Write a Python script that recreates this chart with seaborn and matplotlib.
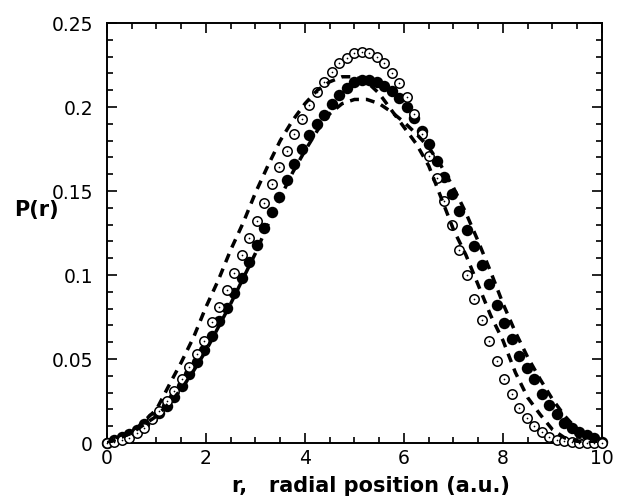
import numpy as np
import pandas as pd
import matplotlib
matplotlib.use("Agg")
import matplotlib.pyplot as plt
from matplotlib.ticker import MultipleLocator, FixedLocator
import seaborn as sns

# radial grid of the sampled points (a.u.)
r_pts = np.linspace(0, 10, 67)

# open circles
p_open = [0.0, 0.0005, 0.0015, 0.003, 0.006, 0.009, 0.014, 0.019, 0.025, 0.031,
          0.038, 0.0455, 0.053, 0.061, 0.072, 0.081, 0.091, 0.101, 0.112, 0.122,
          0.132, 0.143, 0.154, 0.164, 0.174, 0.184, 0.193, 0.201, 0.209, 0.215,
          0.221, 0.226, 0.229, 0.232, 0.2325, 0.232, 0.230, 0.226, 0.220, 0.214,
          0.206, 0.196, 0.184, 0.171, 0.158, 0.144, 0.130, 0.115, 0.100, 0.086,
          0.073, 0.061, 0.049, 0.038, 0.029, 0.021, 0.015, 0.010, 0.0065, 0.0038,
          0.0020, 0.0010, 0.0004, 0.0001, 0.0, 0.0, 0.0]

# filled circles
p_filled = [0.0, 0.0017, 0.0035, 0.0055, 0.0080, 0.0112, 0.0146, 0.0181, 0.0222, 0.0275,
            0.0338, 0.0410, 0.0482, 0.0552, 0.0635, 0.0728, 0.0805, 0.0890, 0.0985, 0.1078,
            0.1178, 0.1280, 0.1378, 0.1465, 0.1565, 0.1660, 0.1750, 0.1835, 0.1900, 0.1950,
            0.2015, 0.2072, 0.2115, 0.2148, 0.2160, 0.2160, 0.2150, 0.2128, 0.2095, 0.2055,
            0.2000, 0.1935, 0.1860, 0.1780, 0.1680, 0.1585, 0.1480, 0.1380, 0.1265, 0.1170,
            0.1060, 0.0945, 0.0820, 0.0715, 0.0620, 0.0520, 0.0445, 0.0380, 0.0290, 0.0226,
            0.0170, 0.0122, 0.0090, 0.0068, 0.0048, 0.0032, 0.0006]

# dashed curves
r_line = [0, 0.5, 1.0, 1.3, 1.5, 1.75, 2.0, 2.25, 2.5, 2.75, 3.0, 3.25, 3.5, 3.75,
          4.0, 4.25, 4.5, 4.75, 5.0, 5.25, 5.5, 5.75, 6.0, 6.25, 6.5, 6.75, 7.0,
          7.25, 7.5, 7.75, 8.0, 8.25, 8.5, 8.75, 9.0, 9.25, 9.5, 9.75, 10.0]
p_dash1 = [0.0, 0.006, 0.020, 0.037, 0.048, 0.063, 0.081, 0.097, 0.115, 0.131, 0.149,
           0.165, 0.180, 0.192, 0.202, 0.210, 0.215, 0.218, 0.218, 0.215, 0.208, 0.198,
           0.188, 0.178, 0.165, 0.146, 0.127, 0.112, 0.094, 0.076, 0.061, 0.042, 0.027,
           0.017, 0.008, 0.003, 0.001, 0.0003, 0.0]
p_dash2 = [0.0, 0.006, 0.016, 0.025, 0.032, 0.043, 0.055, 0.069, 0.083, 0.098, 0.113,
           0.130, 0.146, 0.161, 0.174, 0.186, 0.196, 0.202, 0.2045, 0.2045, 0.202, 0.197,
           0.191, 0.184, 0.176, 0.165, 0.152, 0.137, 0.120, 0.102, 0.083, 0.066, 0.051,
           0.038, 0.026, 0.016, 0.008, 0.003, 0.0]

y_ticks = [0, 0.05, 0.1, 0.15, 0.2, 0.25]
y_tick_labels = ["0", "0.05", "0.1", "0.15", "0.2", "0.25"]
x_ticks = [0, 2, 4, 6, 8, 10]

sns.set_style("ticks")
plt.rcParams['font.family'] = ['DejaVu Sans']

pts = pd.DataFrame({"r": r_pts, "open": p_open, "filled": p_filled})
lines = pd.DataFrame({"r": r_line, "d1": p_dash1, "d2": p_dash2})

fig = plt.figure(figsize=(6.32, 4.99), dpi=100)
ax = fig.add_axes([0.1693, 0.1122, 0.7832, 0.8417])

sns.scatterplot(data=pts, x="r", y="filled", ax=ax, color="black", s=68,
                edgecolor="black", linewidth=0, zorder=3, clip_on=False)
sns.scatterplot(data=pts, x="r", y="open", ax=ax, facecolor="white", s=46,
                edgecolor="black", linewidth=1.1, zorder=4, clip_on=False)
sns.scatterplot(data=pts, x="r", y="open", ax=ax, color="black", s=1.5,
                linewidth=0, zorder=5, clip_on=False)
sns.lineplot(data=lines, x="r", y="d1", ax=ax, color="black", lw=2.5,
             dashes=False, zorder=6).lines[-1].set_dashes((2.6, 2.0))
sns.lineplot(data=lines, x="r", y="d2", ax=ax, color="black", lw=2.5,
             dashes=False, zorder=6).lines[-1].set_dashes((2.6, 2.0))

ax.set_xlim(0, 10)
ax.set_ylim(0, 0.25)
ax.xaxis.set_major_locator(FixedLocator(x_ticks))
ax.xaxis.set_minor_locator(MultipleLocator(0.5))
ax.set_yticks(y_ticks)
ax.set_yticklabels(y_tick_labels)
ax.yaxis.set_minor_locator(MultipleLocator(0.01))
ax.tick_params(which="both", direction="in", top=True, right=True, width=1.2,
               labelsize=13.5, colors="black")
ax.tick_params(which="major", length=7)
ax.tick_params(which="minor", length=4)
ax.tick_params(axis="y", pad=10)
ax.tick_params(axis="x", pad=4)
for s in ax.spines.values():
    s.set_linewidth(1.4)
    s.set_color("black")

ax.set_xlabel("r,   radial position (a.u.)", fontsize=15, fontweight="bold",
              va="top", color="black")
ax.xaxis.set_label_coords(0.533, -0.078)
ax.set_ylabel("P(r)", fontsize=15, fontweight="bold", rotation=0,
              va="center", ha="center", color="black")
ax.yaxis.set_label_coords(-0.143, 0.555)

fig.savefig("out.png", dpi=100)
